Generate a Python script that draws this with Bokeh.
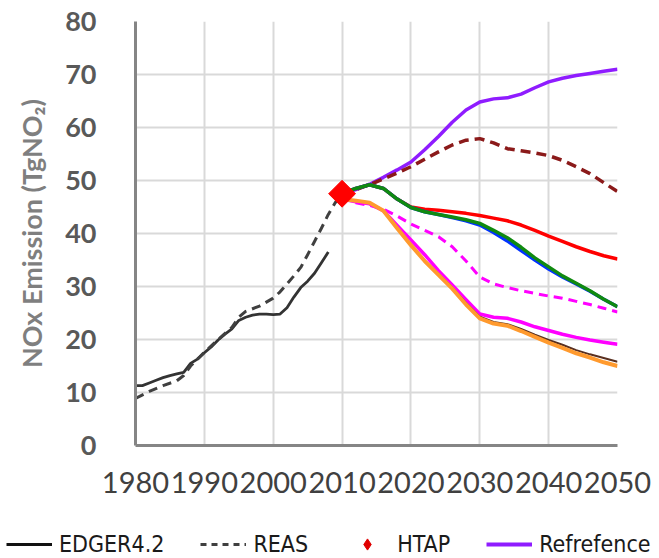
import math
from bokeh.plotting import figure
from bokeh.models import Range1d, FixedTicker, Legend, LegendItem
from bokeh.embed import file_html
from bokeh.resources import INLINE

# ---------------- data ----------------
x_ticks = [1980, 1990, 2000, 2010, 2020, 2030, 2040, 2050]
y_ticks = [0, 10, 20, 30, 40, 50, 60, 70, 80]

edgar_years = [1980, 1981, 1982, 1983, 1984, 1985, 1986, 1987, 1988, 1989, 1990,
               1991, 1992, 1993, 1994, 1995, 1996, 1997, 1998, 1999, 2000, 2001,
               2002, 2003, 2004, 2005, 2006, 2007, 2008]
edgar_vals = [11.3, 11.3, 11.8, 12.3, 12.8, 13.2, 13.5, 13.8, 15.5, 16.3, 17.5,
              18.6, 19.9, 21.0, 22.0, 23.6, 24.2, 24.6, 24.8, 24.8, 24.7, 24.8,
              26.0, 28.0, 29.8, 31.0, 32.5, 34.5, 36.5]

reas_years = [1980, 1982, 1984, 1986, 1987, 1988, 1990, 1992, 1994, 1995, 1996,
              1998, 2000, 2001, 2002, 2003, 2004, 2005, 2006, 2007, 2008, 2009, 2010]
reas_vals = [8.9, 10.2, 11.3, 12.2, 13.2, 15.0, 17.6, 20.0, 22.3, 24.2, 25.3,
             26.3, 27.8, 29.0, 30.5, 32.0, 33.6, 36.0, 38.5, 41.0, 43.6, 45.8, 47.5]

htap_years = [2010]
htap_vals = [47.5]

scen_years = [2010, 2012, 2014, 2016, 2018, 2020, 2022, 2024, 2026, 2028, 2030,
              2032, 2034, 2036, 2038, 2040, 2042, 2044, 2046, 2048, 2050]
reference_vals = [47.5, 48.3, 49.3, 50.6, 52.0, 53.5, 55.8, 58.3, 61.0, 63.3, 64.8,
                  65.4, 65.6, 66.3, 67.5, 68.6, 69.3, 69.8, 70.2, 70.6, 71.0]
maroon_dash_vals = [47.5, 48.3, 49.2, 50.3, 51.4, 52.6, 54.0, 55.4, 56.7, 57.6, 57.9,
                    57.1, 56.0, 55.6, 55.2, 54.7, 53.8, 52.6, 51.3, 49.6, 47.9]
red_vals = [47.5, 48.5, 49.2, 48.5, 46.5, 45.0, 44.6, 44.4, 44.1, 43.8, 43.4,
            42.9, 42.4, 41.6, 40.6, 39.5, 38.5, 37.5, 36.6, 35.8, 35.2]
green_vals = [47.5, 48.5, 49.2, 48.5, 46.5, 44.9, 44.1, 43.6, 43.1, 42.6, 41.9,
              40.6, 39.2, 37.4, 35.4, 33.7, 32.0, 30.6, 29.2, 27.6, 26.2]
blue_vals = [47.5, 48.5, 49.2, 48.5, 46.5, 44.9, 44.1, 43.6, 43.0, 42.4, 41.6,
             40.2, 38.6, 36.8, 35.0, 33.3, 31.8, 30.5, 29.1, 27.6, 26.2]
magenta_dash_vals = [47.0, 45.8, 45.3, 44.6, 43.3, 41.8, 40.6, 39.4, 37.5, 34.8, 31.8,
                     30.5, 29.8, 29.2, 28.7, 28.2, 27.8, 27.2, 26.6, 25.9, 25.2]
magenta_vals = [46.5, 46.0, 45.6, 44.3, 41.5, 38.8, 36.0, 33.0, 30.3, 27.5, 24.8,
                24.2, 24.0, 23.3, 22.4, 21.7, 21.0, 20.4, 19.9, 19.5, 19.1]
dark_vals = [46.5, 46.2, 45.8, 44.3, 41.0, 37.9, 34.9, 32.3, 29.8, 26.9, 24.3,
             23.3, 22.9, 22.0, 20.9, 19.9, 19.0, 18.0, 17.2, 16.5, 15.8]
orange_vals = [46.5, 46.2, 45.8, 44.3, 41.0, 37.8, 34.8, 32.2, 29.6, 26.6, 24.0,
               23.0, 22.6, 21.6, 20.5, 19.4, 18.4, 17.4, 16.6, 15.7, 15.0]

legend_labels = ["EDGER4.2", "REAS", "HTAP", "Refrefence"]
nan = float("nan")

# ---------------- main figure ----------------
p = figure(width=659, height=530, output_backend="svg", toolbar_location=None,
           x_range=Range1d(1980, 2050), y_range=Range1d(0, 80),
           min_border_left=135, min_border_right=42, min_border_top=21,
           min_border_bottom=85)
p.outline_line_color = None
p.background_fill_color = "white"

for ax in (p.xaxis[0], p.yaxis[0]):
    ax.axis_line_color = "#858585"
    ax.axis_line_width = 3
    ax.major_tick_line_color = None
    ax.minor_tick_line_color = None
    ax.major_tick_out = 0
    ax.major_tick_in = 0
    ax.major_label_text_font = "Lato"

p.xaxis.ticker = FixedTicker(ticks=x_ticks)
p.yaxis.ticker = FixedTicker(ticks=y_ticks)
p.xaxis.major_label_text_font_size = "29px"
p.xaxis.major_label_text_color = "#404040"
p.xaxis.major_label_standoff = 26

p.yaxis.major_label_text_font_size = "27px"
p.yaxis.major_label_text_font_style = "bold"
p.yaxis.major_label_text_color = "#595959"
p.yaxis.major_label_standoff = 39
p.yaxis.axis_label = "NOx Emission (TgNO\u2082)"
p.yaxis.axis_label_text_font = "Lato"
p.yaxis.axis_label_text_font_size = "27px"
p.yaxis.axis_label_text_font_style = "bold"
p.yaxis.axis_label_text_color = "#7f7f7f"
p.yaxis.axis_label_standoff = 14

p.xgrid.ticker = FixedTicker(ticks=x_ticks)
p.ygrid.ticker = FixedTicker(ticks=y_ticks)
for g in (p.xgrid[0], p.ygrid[0]):
    g.grid_line_color = "#d9d9d9"
    g.grid_line_width = 2

p.line(edgar_years, edgar_vals, line_color="#333333", line_width=2.8, line_join="round")
p.line(reas_years, reas_vals, line_color="#404040", line_width=3,
       line_dash="9 6", line_join="round")
p.line(scen_years, reference_vals, line_color="#8f1cff", line_width=3.5, line_join="round")
p.line(scen_years, maroon_dash_vals, line_color="#8b1a1a", line_width=3.5,
       line_dash="10 6", line_join="round")
p.line(scen_years, red_vals, line_color="#ff0000", line_width=3.5, line_join="round")
p.line(scen_years, blue_vals, line_color="#0033ff", line_width=3.5, line_join="round")
p.line(scen_years, green_vals, line_color="#108a10", line_width=3.5, line_join="round")
p.line(scen_years, magenta_dash_vals, line_color="#ff00ff", line_width=3,
       line_dash="9 6", line_join="round")
p.line(scen_years, magenta_vals, line_color="#ff00ff", line_width=3.5, line_join="round")
p.line(scen_years, dark_vals, line_color="#5a3020", line_width=2, line_join="round")
p.line(scen_years, orange_vals, line_color="#ff9a2e", line_width=4, line_join="round")
p.scatter(htap_years, htap_vals, marker="square", size=19, angle=math.pi / 4,
          fill_color="#ff0000", line_color="#ff0000")

# ---------------- legend strip (separate root, full width) ----------------
lf = figure(width=659, height=28, output_backend="svg", toolbar_location=None,
            x_range=Range1d(0, 1), y_range=Range1d(0, 1), min_border=0,
            min_border_left=0, min_border_right=0, min_border_top=0, min_border_bottom=0)
lf.axis.visible = False
lf.grid.visible = False
lf.outline_line_color = None
l_edgar = lf.line(x=[nan], y=[nan], line_color="#111111", line_width=3)
l_reas = lf.line(x=[nan], y=[nan], line_color="#404040", line_width=3, line_dash="6 5")
l_htap = lf.scatter(x=[nan], y=[nan], marker="diamond", size=10,
                    fill_color="#e00000", line_color="#e00000")
l_ref = lf.line(x=[nan], y=[nan], line_color="#8f1cff", line_width=4)

legend = Legend(items=[LegendItem(label=legend_labels[0], renderers=[l_edgar]),
                       LegendItem(label=legend_labels[1], renderers=[l_reas]),
                       LegendItem(label=legend_labels[2], renderers=[l_htap]),
                       LegendItem(label=legend_labels[3], renderers=[l_ref])],
                orientation="horizontal", location=(6, 0),
                border_line_color=None, background_fill_alpha=0,
                padding=0, margin=0, spacing=36,
                glyph_width=46, glyph_height=28, label_height=28,
                label_standoff=7,
                label_text_font="'Liberation Sans Narrow', 'DejaVu Sans Condensed', 'Roboto Condensed', sans-serif",
                label_text_font_size="23px", label_text_color="#1a1a1a")
lf.add_layout(legend, "center")

open("out.html", "w").write(file_html([p, lf], INLINE))
